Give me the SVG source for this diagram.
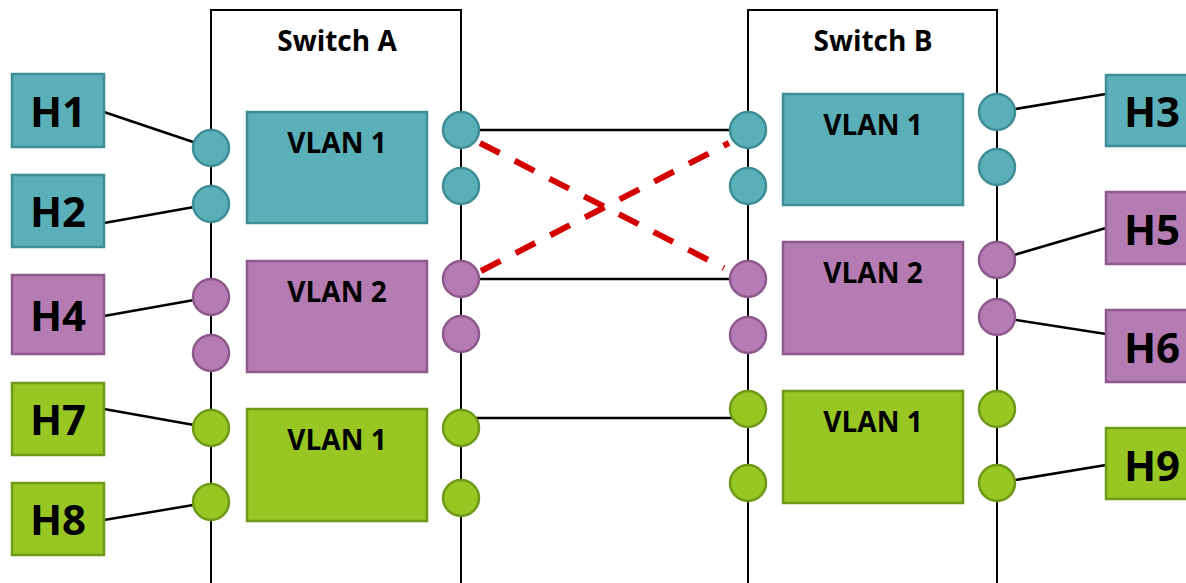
<svg xmlns="http://www.w3.org/2000/svg" width="1186" height="583" viewBox="0 0 1186 583">
<style>
.sw{fill:none;stroke:#000;stroke-width:2}
.ln{stroke:#000;stroke-width:2.5;fill:none}
.red{stroke:#d40000;stroke-width:6;stroke-dasharray:22 17;fill:none}
.t{fill:#5aafb8;stroke:#3f8e96;stroke-width:2.5}
.p{fill:#b57bb3;stroke:#8d5a8b;stroke-width:2.5}
.g{fill:#98c623;stroke:#6f9a19;stroke-width:2.5}
.lbl{font-family:"Open Sans","Noto Sans",sans-serif;font-weight:700;font-size:28px;fill:#000;text-anchor:middle}
.h{font-family:"Open Sans","Noto Sans",sans-serif;font-weight:700;font-size:42px;fill:#000;text-anchor:middle}
</style>
<g id="switchA">
<path class="sw" d="M211,583 V10 H461 V583"/>
<text class="lbl" x="337" y="51">Switch A</text>
</g>
<g id="switchB">
<path class="sw" d="M748,583 V10 H997 V583"/>
<text class="lbl" x="873" y="51">Switch B</text>
</g>
<g id="connectors">
<line class="ln" x1="104" y1="112" x2="211" y2="148"/>
<line class="ln" x1="104" y1="223" x2="211" y2="204"/>
<line class="ln" x1="104" y1="316" x2="211" y2="297"/>
<line class="ln" x1="104" y1="409" x2="211" y2="428"/>
<line class="ln" x1="104" y1="520" x2="211" y2="502"/>
<line class="ln" x1="997" y1="112" x2="1106" y2="94"/>
<line class="ln" x1="997" y1="260" x2="1106" y2="228"/>
<line class="ln" x1="997" y1="317" x2="1106" y2="334"/>
<line class="ln" x1="997" y1="483" x2="1106" y2="465"/>
<line class="ln" x1="461" y1="130" x2="748" y2="130"/>
<line class="ln" x1="461" y1="279" x2="748" y2="279"/>
<line class="ln" x1="461" y1="418" x2="748" y2="418"/>
<line class="red" x1="480" y1="143" x2="724" y2="268"/>
<line class="red" x1="481" y1="271" x2="729" y2="143"/>
</g>
<g id="vlanA1"><rect class="t" x="247" y="112" width="180" height="111"/><text class="lbl" x="337" y="153">VLAN 1</text></g>
<g id="vlanA2"><rect class="p" x="247" y="261" width="180" height="111"/><text class="lbl" x="337" y="302">VLAN 2</text></g>
<g id="vlanA3"><rect class="g" x="247" y="409" width="180" height="112"/><text class="lbl" x="337" y="450">VLAN 1</text></g>
<g id="vlanB1"><rect class="t" x="783" y="94" width="180" height="111"/><text class="lbl" x="873" y="135">VLAN 1</text></g>
<g id="vlanB2"><rect class="p" x="783" y="242" width="180" height="112"/><text class="lbl" x="873" y="283">VLAN 2</text></g>
<g id="vlanB3"><rect class="g" x="783" y="391" width="180" height="112"/><text class="lbl" x="873" y="432">VLAN 1</text></g>
<g id="portsA">
<circle class="t" cx="211" cy="148" r="18"/>
<circle class="t" cx="211" cy="204" r="18"/>
<circle class="p" cx="211" cy="297" r="18"/>
<circle class="p" cx="211" cy="353" r="18"/>
<circle class="g" cx="211" cy="428" r="18"/>
<circle class="g" cx="211" cy="502" r="18"/>
<circle class="t" cx="461" cy="130" r="18"/>
<circle class="t" cx="461" cy="186" r="18"/>
<circle class="p" cx="461" cy="279" r="18"/>
<circle class="p" cx="461" cy="334" r="18"/>
<circle class="g" cx="461" cy="428" r="18"/>
<circle class="g" cx="461" cy="498" r="18"/>
</g>
<g id="portsB">
<circle class="t" cx="748" cy="130" r="18"/>
<circle class="t" cx="748" cy="186" r="18"/>
<circle class="p" cx="748" cy="279" r="18"/>
<circle class="p" cx="748" cy="335" r="18"/>
<circle class="g" cx="748" cy="409" r="18"/>
<circle class="g" cx="748" cy="483" r="18"/>
<circle class="t" cx="997" cy="112" r="18"/>
<circle class="t" cx="997" cy="167" r="18"/>
<circle class="p" cx="997" cy="260" r="18"/>
<circle class="p" cx="997" cy="317" r="18"/>
<circle class="g" cx="997" cy="409" r="18"/>
<circle class="g" cx="997" cy="483" r="18"/>
</g>
<g id="H1"><rect class="t" x="12" y="74" width="92" height="73"/><text class="h" x="58" y="127">H1</text></g>
<g id="H2"><rect class="t" x="12" y="175" width="92" height="72"/><text class="h" x="58" y="227">H2</text></g>
<g id="H4"><rect class="p" x="12" y="275" width="92" height="79"/><text class="h" x="58" y="331">H4</text></g>
<g id="H7"><rect class="g" x="12" y="383" width="92" height="72"/><text class="h" x="58" y="435">H7</text></g>
<g id="H8"><rect class="g" x="12" y="483" width="92" height="72"/><text class="h" x="58" y="535">H8</text></g>
<g id="H3"><rect class="t" x="1106" y="75" width="92" height="71"/><text class="h" x="1152" y="127">H3</text></g>
<g id="H5"><rect class="p" x="1106" y="192" width="92" height="72"/><text class="h" x="1152" y="245">H5</text></g>
<g id="H6"><rect class="p" x="1106" y="310" width="92" height="72"/><text class="h" x="1152" y="363">H6</text></g>
<g id="H9"><rect class="g" x="1106" y="428" width="92" height="71"/><text class="h" x="1152" y="481">H9</text></g>
</svg>
